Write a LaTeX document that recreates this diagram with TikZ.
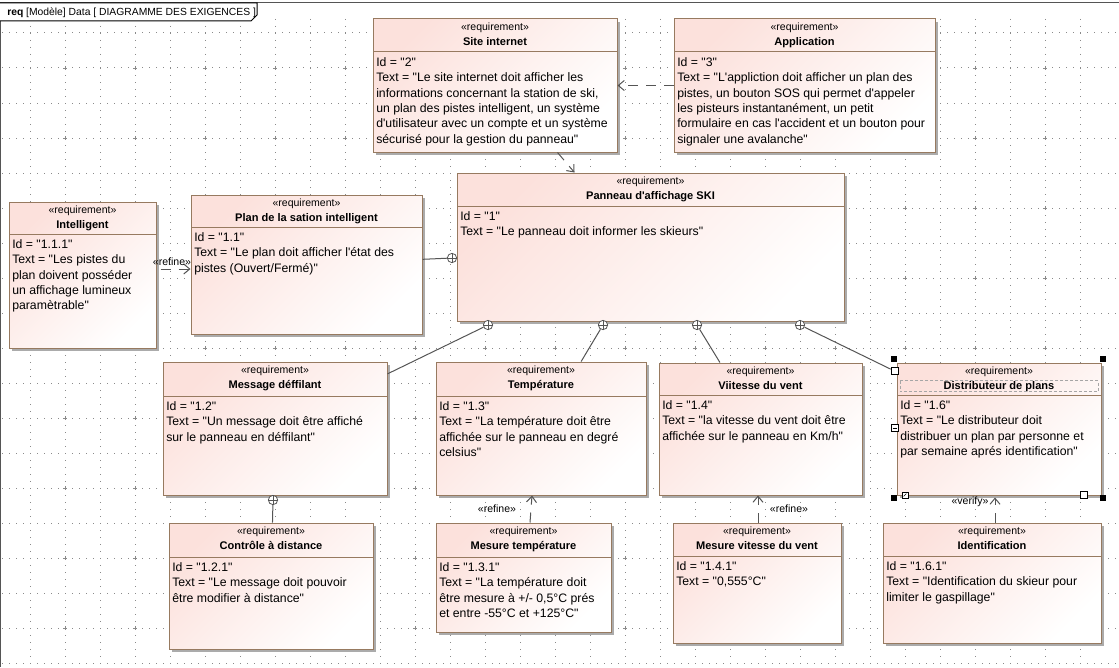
\documentclass[tikz,border=0pt]{standalone}
\usepackage{fontspec}
\newfontfamily\uifont{Liberation Sans}
\usetikzlibrary{arrows.meta,fit,calc}
\definecolor{boxc}{HTML}{977A60}
\definecolor{fillA}{HTML}{FCE1DC}
\definecolor{linec}{HTML}{555555}
\definecolor{gridc}{HTML}{8A8A8A}
\definecolor{shadc}{HTML}{ABABAB}
\tikzset{
  reqbox/.style={draw=boxc, line width=0.75pt, inner sep=0pt, top color=fillA, bottom color=white, shading angle=45},
  sepline/.style={draw=boxc, line width=0.75pt},
  stereo/.style={font=\uifont\fontsize{7.9}{9}\selectfont, inner sep=0pt, anchor=base},
  rtitle/.style={font=\uifont\bfseries\fontsize{8.3}{10}\selectfont, inner sep=0pt, anchor=base},
  rbody/.style={font=\uifont\fontsize{9.2}{11.5}\selectfont, inner sep=0pt, anchor=north west, align=left},
  conn/.style={draw=linec, line width=0.75pt},
  dep/.style={conn, dash pattern=on 7.5pt off 6pt, -{Straight Barb[length=4.5pt,width=7.5pt]}},
  lab/.style={font=\uifont\fontsize{7.9}{9}\selectfont, inner sep=0pt, anchor=base},
  cplus/.style={circle, draw=linec, line width=0.6pt, fill=white, minimum size=7pt, inner sep=0pt,
    path picture={\draw[linec, line width=0.6pt] (path picture bounding box.north) -- (path picture bounding box.south) (path picture bounding box.west) -- (path picture bounding box.east);}},
  griddot/.style={draw=gridc, line width=0.75pt, dash pattern=on 0.75pt off 4.5pt},
  handle/.style={fill=black, minimum size=3.9pt, inner sep=0pt},
  minisq/.style={draw=black, fill=white, line width=0.5pt, minimum size=5.2pt, inner sep=0pt},
}
\newcommand\req[8]{%
  \fill[shadc] (#2+3,#3+3) rectangle (#4+3,#5+3);
  \node[reqbox, fit={(#2,#3) (#4,#5)}] (#1) {};
  \draw[sepline] (#2,#6) -- (#4,#6);
  \node[stereo] (#1-s) at ($(#1.north)+(0,12)$) {«requirement»};
  \node[rtitle] (#1-t) at ($(#1.north)+(0,27)$) {#7};
  \node[rbody] (#1-b) at (#2+3,#6+5.5) {#8};
}
\begin{document}
\begin{tikzpicture}[x=0.75pt,y=-0.75pt]
\useasboundingbox (0,0) rectangle (1119,667);
\fill[white] (0,0) rectangle (1119,667);
% grid
\foreach \x in {30,65,...,1110} \draw[griddot] (\x,19) -- (\x,667);
\foreach \y in {33,68,...,663} \draw[griddot] (2,\y) -- (1119,\y);
\foreach \x in {65,135,...,1110} \foreach \y in {68,138,...,663}
  \draw[gridc, line width=0.5pt] (\x-2,\y) -- (\x+2,\y) (\x,\y-2) -- (\x,\y+2);
% frame
\draw[linec, line width=0.75pt] (0,3) -- (1119,3);
\draw[linec, line width=0.75pt] (0.5,3) -- (0.5,667);
\draw[black, line width=0.75pt, fill=white] (0,3) -- (257,3) -- (257,15) -- (251,21) -- (0,21);
\node[font=\uifont\fontsize{7.75}{10}\selectfont, inner sep=0pt, anchor=base west] (tab) at (7,16) {\textbf{req} [Modèle] Data [ DIAGRAMME DES EXIGENCES ]};
% boxes
\req{site}{373}{19}{617}{152}{52}{Site internet}{Id = "2"\\Text = "Le site internet doit afficher les\\informations concernant la station de ski,\\un plan des pistes intelligent, un système\\d'utilisateur avec un compte et un système\\sécurisé pour la gestion du panneau"}
\req{app}{674}{19}{935}{152}{52}{Application}{Id = "3"\\Text = "L'appliction doit afficher un plan des\\pistes, un bouton SOS qui permet d'appeler\\les pisteurs instantanément, un petit\\formulaire en cas l'accident et un bouton pour\\signaler une avalanche"}
\req{panel}{457}{173}{844}{321}{206}{Panneau d'affichage SKI}{Id = "1"\\Text = "Le panneau doit informer les skieurs"}
\req{intel}{9}{202}{156}{348}{234}{Intelligent}{Id = "1.1.1"\\Text = "Les pistes du\\plan doivent posséder\\un affichage lumineux\\paramètrable"}
\req{plan}{191}{195}{422}{334}{227}{Plan de la sation intelligent}{Id = "1.1"\\Text = "Le plan doit afficher l'état des\\pistes (Ouvert/Fermé)"}
\req{msg}{163}{362}{387}{495}{396}{Message déffilant}{Id = "1.2"\\Text = "Un message doit être affiché\\sur le panneau en déffilant"}
\req{temp}{436}{362}{646}{495}{396}{Température}{Id = "1.3"\\Text = "La température doit être\\affichée sur le panneau en degré\\celsius"}
\req{vent}{659}{363}{862}{495}{395}{Viitesse du vent}{Id = "1.4"\\Text = "la vitesse du vent doit être\\affichée sur le panneau en Km/h"}
\req{dist}{897}{363}{1101}{495}{395}{Distributeur de plans}{Id = "1.6"\\Text = "Le distributeur doit\\distribuer un plan par personne et\\par semaine aprés identification"}
\req{ctrl}{169}{523}{373}{649}{557}{Contrôle à distance}{Id = "1.2.1"\\Text = "Le message doit pouvoir\\être modifier à distance"}
\req{mtemp}{436}{523}{611}{632}{557}{Mesure température}{Id = "1.3.1"\\Text = "La température doit\\être mesure à +/- 0,5°C prés\\et entre -55°C et +125°C"}
\req{mvent}{673}{523}{841}{643}{556}{Mesure vitesse du vent}{Id = "1.4.1"\\Text = "0,555°C"}
\req{ident}{883}{523}{1101}{643}{556}{Identification}{Id = "1.6.1"\\Text = "Identification du skieur pour\\limiter le gaspillage"}
% selection decorations on dist
\draw[gray!70, line width=0.6pt, dash pattern=on 2.25pt off 1.5pt] (900,380.5) rectangle (1098,391.5);
\node[handle] (h1) at (894,359) {};
\node[handle] (h2) at (1103,359) {};
\node[handle] (h3) at (894,498) {};
\node[handle] (h4) at (1103,498) {};
\node[minisq, path picture={\fill (path picture bounding box.center) circle (0.35pt) ++(-1.3pt,0) circle (0.35pt) ++(2.6pt,0) circle (0.35pt);}] (sq1) at (894.5,371) {};
\node[minisq, path picture={\draw[line width=0.5pt] ([xshift=-1.5pt]path picture bounding box.center) -- ([xshift=1.5pt]path picture bounding box.center);}] (sq2) at (894.5,428) {};
\node[minisq, minimum size=4.5pt, path picture={\draw[line width=0.45pt] ([shift={(-1pt,-1pt)}]path picture bounding box.center) -- ([shift={(1pt,1pt)}]path picture bounding box.center);}] (sq3) at (905,495) {};
\node[minisq, minimum size=4.8pt, path picture={\fill ([shift={(-1pt,-1pt)}]path picture bounding box.center) rectangle ([shift={(1pt,1pt)}]path picture bounding box.center);}] (sq4) at (1084,495) {};
% containment
\node[cplus] (c0) at (452,258) {};
\node[cplus] (c1) at (488,325) {};
\node[cplus] (c2) at (603,325) {};
\node[cplus] (c3) at (697,325) {};
\node[cplus] (c4) at (800,325) {};
\node[cplus] (c5) at (273,500) {};
\draw[conn] (plan) -- (c0);
\draw[conn] (msg) -- (c1);
\draw[conn] (temp) -- (c2);
\draw[conn] (vent) -- (c3);
\draw[conn] (sq1) -- (c4);
\draw[conn] (ctrl) -- (c5);
% dependencies
\draw[dep] (app.west) -- (site.east);
\draw[dep] ($(site.south west)+(185,0)$) -- ($(panel.north west)+(118,0)$);
\draw[dep] ($(intel.east)+(4,-6)$) -- ($(plan.west)+(0,4.5)$);
\draw[dep] ($(mtemp.north)+(6.5,0)$) -- ($(temp.south)+(-9,0)$);
\draw[dep] ($(mvent.north)+(1,0)$) -- ($(vent.south)+(-2.5,0)$);
\draw[dep] ($(ident.north)+(3,0)$) -- ($(dist.south)+(-4,2)$);
\node[lab] (l1) at (172,265) {«refine»};
\node[lab] (l2) at (497,512) {«refine»};
\node[lab] (l3) at (789,512) {«refine»};
\node[lab] (l4) at (970,504) {«verify»};
\end{tikzpicture}
\end{document}
